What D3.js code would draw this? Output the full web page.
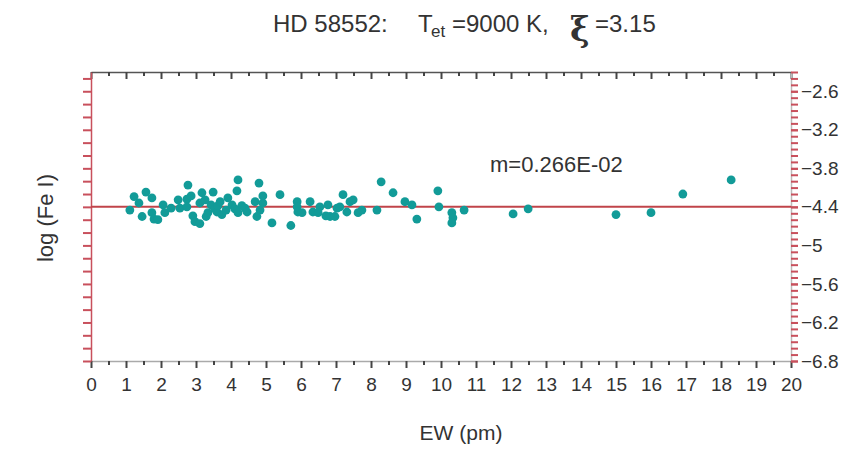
<!DOCTYPE html>
<html>
<head>
<meta charset="utf-8">
<script src="https://cdn.jsdelivr.net/npm/d3@7/dist/d3.min.js"></script>
<style>
    body { margin: 0; background: #fff; }
    text { font-family: "Liberation Sans", Arial, sans-serif; fill: #333; }
</style>
</head>
<body>
<svg id="chart" width="844" height="455"></svg>
<script>
'use strict';

// equivalent widths (pm) and abundances
var ewValues = [
    1.11, 1.23, 1.37, 1.46, 1.57, 1.74, 1.74, 1.80, 1.91, 2.06,
    2.11, 2.29, 2.49, 2.54, 2.77, 2.74, 2.74, 2.86, 2.91, 2.97,
    3.11, 3.11, 3.17, 3.26, 3.29, 3.34, 3.43, 3.49, 3.54, 3.60,
    3.63, 3.69, 3.74, 3.86, 3.91, 4.03, 4.11, 4.17, 4.20, 4.20,
    4.31, 4.40, 4.46, 4.69, 4.80, 4.91, 4.83, 4.91, 4.74, 5.17,
    5.40, 5.71, 5.89, 5.91, 5.89, 6.03, 6.26, 6.34, 6.54, 6.49,
    6.77, 6.83, 6.71, 7.03, 6.97, 7.20, 7.11, 7.31, 7.40, 7.49,
    7.63, 7.74, 8.17, 8.29, 8.63, 8.97, 9.17, 9.31, 9.91, 9.94,
    10.31, 10.34, 10.31, 10.66, 12.06, 12.49, 15.00, 16.00, 16.91, 18.29
];
var logFeValues = [
    -4.45, -4.24, -4.34, -4.55, -4.17, -4.26, -4.49, -4.59, -4.60, -4.37,
    -4.49, -4.42, -4.29, -4.42, -4.06, -4.28, -4.40, -4.23, -4.54, -4.63,
    -4.66, -4.34, -4.18, -4.29, -4.55, -4.49, -4.37, -4.17, -4.43, -4.48,
    -4.38, -4.32, -4.52, -4.45, -4.26, -4.37, -4.43, -4.15, -3.98, -4.49,
    -4.38, -4.42, -4.48, -4.32, -4.03, -4.34, -4.45, -4.23, -4.55, -4.65,
    -4.21, -4.69, -4.32, -4.48, -4.40, -4.49, -4.32, -4.48, -4.40, -4.49,
    -4.37, -4.55, -4.54, -4.42, -4.55, -4.21, -4.40, -4.48, -4.32, -4.29,
    -4.49, -4.45, -4.45, -4.01, -4.18, -4.32, -4.37, -4.59, -4.15, -4.40,
    -4.49, -4.57, -4.65, -4.45, -4.51, -4.43, -4.52, -4.49, -4.20, -3.98
];
var fitLevel = -4.4;
var slopeLabel = 'm=0.266E-02';
var xTickLabels = [0, 1, 2, 3, 4, 5, 6, 7, 8, 9, 10, 11, 12, 13, 14, 15, 16, 17, 18, 19, 20];
var yTickLabels = [-2.6, -3.2, -3.8, -4.4, -5, -5.6, -6.2, -6.8];

var svg = d3.select('#chart');
var plotLeft = 91, plotRight = 791, plotTop = 72, plotBottom = 361;
var red = '#c8505c';
var teal = '#129b98';

var x = d3.scaleLinear().domain([0, 20]).range([plotLeft, plotRight]);
var y = d3.scaleLinear().domain([-6.8, -2.3]).range([plotBottom, plotTop]);

var halfSteps = d3.range(0.5, 20, 1);
var tenthSteps = d3.range(-6.8, -2.25, 0.1).map(function (v) { return +v.toFixed(1); });
var fifthSteps = d3.range(-6.8, -2.25, 0.2).map(function (v) { return +v.toFixed(1); });

function styleAxis(g, lineColor, tickColor) {
    g.select('.domain').attr('stroke', lineColor).attr('stroke-width', 1.5);
    g.selectAll('.tick line').attr('stroke', tickColor).attr('stroke-width', 2);
    g.selectAll('.tick text').attr('fill', '#333').style('font-size', '19px')
        .style('font-family', '"Liberation Sans", Arial, sans-serif');
}

// bottom axis
var gBottom = svg.append('g').attr('transform', 'translate(0,' + plotBottom + ')');
gBottom.call(d3.axisBottom(x).tickValues(xTickLabels).tickSize(7).tickSizeOuter(0).tickPadding(10).tickFormat(d3.format('d')));
styleAxis(gBottom, '#aaa', '#444');
svg.append('g').attr('transform', 'translate(0,' + plotBottom + ')')
    .call(d3.axisBottom(x).tickValues(halfSteps).tickSize(4).tickFormat(''))
    .call(function (g) { g.select('.domain').remove(); g.selectAll('line').attr('stroke', '#444').attr('stroke-width', 2); });

// top axis, ticks pointing inward
var gTop = svg.append('g').attr('transform', 'translate(0,' + plotTop + ')');
gTop.call(d3.axisBottom(x).tickValues(xTickLabels).tickSize(7).tickSizeOuter(0).tickFormat(''));
styleAxis(gTop, '#555', '#444');
svg.append('g').attr('transform', 'translate(0,' + plotTop + ')')
    .call(d3.axisBottom(x).tickValues(halfSteps).tickSize(4).tickFormat(''))
    .call(function (g) { g.select('.domain').remove(); g.selectAll('line').attr('stroke', '#444').attr('stroke-width', 2); });

// left axis
var gLeft = svg.append('g').attr('transform', 'translate(' + plotLeft + ',0)');
gLeft.call(d3.axisLeft(y).tickValues(fifthSteps).tickSize(8).tickSizeOuter(0).tickFormat(''));
styleAxis(gLeft, red, red);

// right axis
var gRight = svg.append('g').attr('transform', 'translate(' + plotRight + ',0)');
gRight.call(d3.axisRight(y).tickValues(tenthSteps).tickSize(7).tickSizeOuter(0).tickFormat(''));
styleAxis(gRight, '#bbb', red);
var gRightLabels = svg.append('g').attr('transform', 'translate(' + plotRight + ',0)');
gRightLabels.call(d3.axisRight(y).tickValues(yTickLabels).tickSize(7).tickSizeOuter(0).tickPadding(3).tickFormat(d3.format('')));
gRightLabels.select('.domain').remove();
styleAxis(gRightLabels, 'none', red);

// fit line
svg.append('line')
    .attr('x1', x(0)).attr('x2', x(20))
    .attr('y1', y(fitLevel)).attr('y2', y(fitLevel))
    .attr('stroke', '#c0444a').attr('stroke-width', 2);

// points
svg.append('g').selectAll('circle')
    .data(ewValues)
    .join('circle')
    .attr('cx', function (d) { return x(d); })
    .attr('cy', function (d, i) { return y(logFeValues[i]); })
    .attr('r', 4.4)
    .attr('fill', teal);

svg.append('text')
    .attr('x', 490).attr('y', 172)
    .style('font-size', '22px')
    .text(slopeLabel);

// title
var title = svg.append('g').style('font-size', '24px');
title.append('text').attr('x', 273).attr('y', 32).text('HD 58552:');
title.append('text').attr('x', 418).attr('y', 32).text('T');
title.append('text').attr('x', 431).attr('y', 37).style('font-size', '17px').attr('fill', '#555').text('et');
title.append('text').attr('x', 452).attr('y', 32).text('=9000 K,');
title.append('text').attr('x', 570).attr('y', 41).style('font-size', '33px').style('font-weight', 'bold')
    .style('font-family', '"DejaVu Serif", serif').text('ξ');
title.append('text').attr('x', 595).attr('y', 32).text('=3.15');

// axis titles
svg.append('text')
    .attr('x', 461).attr('y', 440)
    .attr('text-anchor', 'middle')
    .style('font-size', '21px')
    .text('EW (pm)');

svg.append('text')
    .attr('transform', 'translate(53,218) rotate(-90)')
    .attr('text-anchor', 'middle')
    .style('font-size', '22px')
    .text('log (Fe I)');
</script>
</body>
</html>
